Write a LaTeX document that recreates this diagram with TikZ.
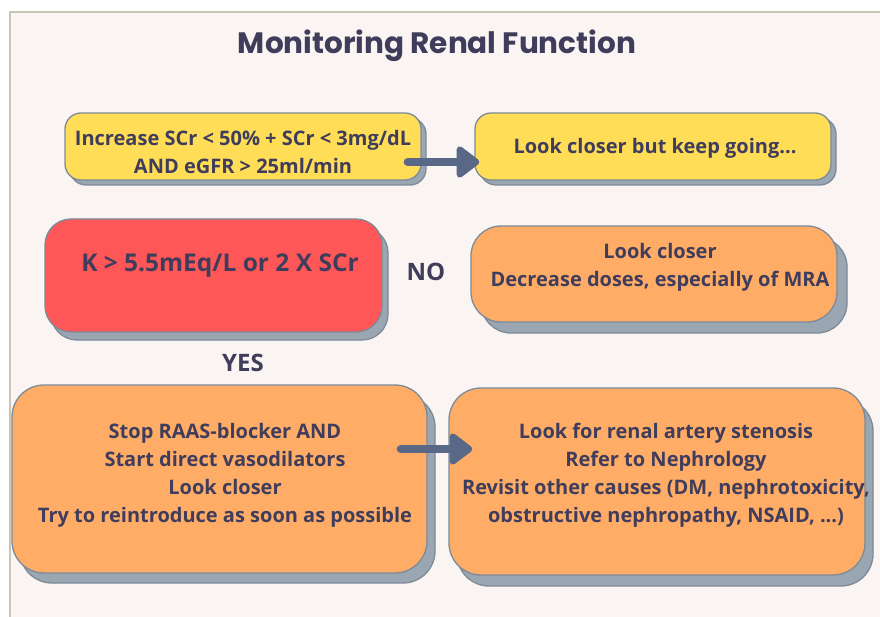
\documentclass[tikz,border=0pt]{standalone}
\usepackage{fontspec}
\setmainfont{Open Sans}
\newfontfamily\titlefont{Poppins}
\usetikzlibrary{arrows.meta,shadows,calc}
\definecolor{bgc}{HTML}{FAF5F2}
\definecolor{framec}{HTML}{C9C6B8}
\definecolor{txtc}{HTML}{3F3D5B}
\definecolor{yelc}{HTML}{FFDD57}
\definecolor{orac}{HTML}{FFAD66}
\definecolor{redc}{HTML}{FF5757}
\definecolor{edgec}{HTML}{7D8A98}
\definecolor{shadc}{HTML}{9AA6B2}
\definecolor{arrc}{HTML}{5A6888}
\tikzset{
  boxbase/.style={rectangle, draw=edgec, line width=1.3pt, inner sep=0pt},
  sh/.style 2 args={general shadow={shadow xshift=#1pt, shadow yshift=-#2pt, fill=shadc, draw=edgec, line width=1.3pt}},
  btext/.style={text=txtc, align=center, inner sep=0pt, font=\fontsize{20}{28}\selectfont\bfseries},
  lbl/.style={text=txtc, inner sep=0pt, font=\fontsize{24}{28}\selectfont\bfseries},
  arr/.style={draw=arrc, line width=8pt, line cap=round, -{Triangle[length=25pt,width=36pt,round]}}
}
\begin{document}
\begin{tikzpicture}[x=1pt,y=-1pt]
\useasboundingbox (0,0) rectangle (880,617);
\fill[white] (0,0) rectangle (880,617);
\fill[bgc] (10,12) rectangle (885,622);
\draw[framec, line width=1.5pt] (10,625) -- (10,12) -- (885,12);

\node[text=txtc, inner sep=0pt, font=\titlefont\fontsize{29.5}{34}\selectfont\bfseries] (title) at (437,46) {Monitoring Renal Function};

% boxes
\node[boxbase, fill=yelc, rounded corners=16pt, minimum width=356pt, minimum height=67pt, sh={5}{5}] (b1) at (243,146.5) {};
\node[btext] (t1) at (243,152) {Increase SCr < 50\% + SCr < 3mg/dL\\AND eGFR > 25ml/min};

\node[boxbase, fill=yelc, rounded corners=16pt, minimum width=356pt, minimum height=67pt, sh={5}{5}] (b2) at (653,146.5) {};
\node[btext] (t2) at (655,148) {Look closer but keep going...};

\node[boxbase, fill=redc, rounded corners=26pt, minimum width=337pt, minimum height=113pt, sh={6}{8}] (b3) at (213.5,275.5) {};
\node[btext, font=\fontsize{24.5}{28}\selectfont\bfseries] (t3) at (220,266) {K > 5.5mEq/L or 2 X SCr};

\node[boxbase, fill=orac, rounded corners=30pt, minimum width=366pt, minimum height=96pt, sh={10}{11}] (b4) at (654,274) {};
\node[btext] (t4) at (660,267) {Look closer\\Decrease doses, especially of MRA};

\node[boxbase, fill=orac, rounded corners=32pt, minimum width=415pt, minimum height=188pt, sh={8}{10}] (b5) at (219.5,479) {};
\node[btext] (t5) at (225,475) {Stop RAAS-blocker AND\\Start direct vasodilators\\Look closer\\Try to reintroduce as soon as possible};

\node[boxbase, fill=orac, rounded corners=32pt, minimum width=416pt, minimum height=187pt, sh={8}{11}] (b6) at (657,481.5) {};
\node[btext] (t6) at (666,475) {Look for renal artery stenosis\\Refer to Nephrology\\Revisit other causes (DM, nephrotoxicity,\\obstructive nephropathy, NSAID, ...)};

\node[lbl] (no) at (426,272) {NO};
\node[lbl] (yes) at (243,363) {YES};

% arrows
\draw[arr] ($(b1.east)+(-14,15.5)$) -- ($(b2.west)+(5,15.5)$);
\draw[arr] ($(b5.east)+(-27,-30)$) -- ($(b6.west)+(24,-32.5)$);
\end{tikzpicture}
\end{document}
